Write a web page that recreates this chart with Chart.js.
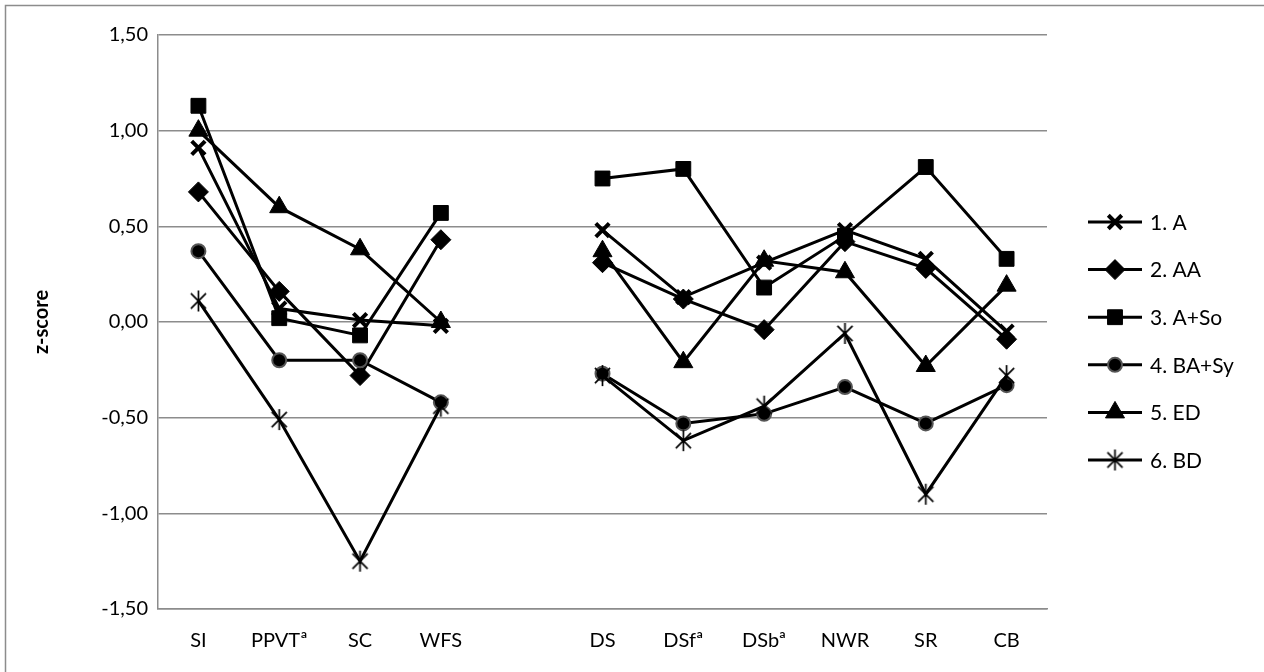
<!DOCTYPE html>
<html>
<head>
<meta charset="utf-8">
<script src="https://cdn.jsdelivr.net/npm/chart.js@4.4.1/dist/chart.umd.min.js"></script>
<style>
  html, body { margin: 0; padding: 0; background: #fff; }
  #wrap { width: 1264px; height: 672px; }
</style>
</head>
<body>
<div id="wrap"><canvas id="chart" width="1264" height="672"></canvas></div>
<script>
// Categories - the empty slot splits the two test groups
const categories = ['SI', 'PPVTª', 'SC', 'WFS', '', 'DS', 'DSfª', 'DSbª', 'NWR', 'SR', 'CB'];
const yTicks = [-1.5, -1, -0.5, 0, 0.5, 1, 1.5];

const seriesNames = ['1. A', '2. AA', '3. A+So', '4. BA+Sy', '5. ED', '6. BD'];
const seriesA    = [0.91, 0.07, 0.01, -0.02, null, 0.48, 0.13, 0.31, 0.48, 0.33, -0.05];
const seriesAA   = [0.68, 0.16, -0.28, 0.43, null, 0.31, 0.12, -0.04, 0.42, 0.28, -0.09];
const seriesASo  = [1.13, 0.02, -0.07, 0.57, null, 0.75, 0.80, 0.18, 0.45, 0.81, 0.33];
const seriesBASy = [0.37, -0.20, -0.20, -0.42, null, -0.27, -0.53, -0.48, -0.34, -0.53, -0.33];
const seriesED   = [1.00, 0.60, 0.38, 0.00, null, 0.37, -0.21, 0.32, 0.26, -0.23, 0.19];
const seriesBD   = [0.11, -0.51, -1.25, -0.44, null, -0.28, -0.62, -0.44, -0.06, -0.90, -0.28];

const FONT = 'Lato, "Open Sans", sans-serif';
const GRID = '#8c8c8c';

// Excel style star marker: an X with a vertical bar through it
function makeStar(size) {
  const c = document.createElement('canvas');
  c.width = size; c.height = size;
  const g = c.getContext('2d');
  const m = size / 2, r = size / 2 - 1;
  const d = r * 0.72;
  g.strokeStyle = '#000';
  g.lineWidth = 1.7;
  g.beginPath();
  g.moveTo(m, m - r); g.lineTo(m, m + r);
  g.moveTo(m - d, m - d); g.lineTo(m + d, m + d);
  g.moveTo(m + d, m - d); g.lineTo(m - d, m + d);
  g.stroke();
  return c;
}

function series(label, data, style, extra) {
  return Object.assign({
    label: label,
    data: data,
    borderColor: '#000',
    borderWidth: 3,
    tension: 0,
    spanGaps: false,
    pointStyle: style,
    pointBackgroundColor: '#000',
    pointBorderColor: '#000',
    pointBorderWidth: 1,
    pointRadius: 9,
    pointHoverRadius: 9
  }, extra || {});
}

const datasets = [
  series(seriesNames[0], seriesA, 'crossRot', { pointRadius: 9.5, pointBorderWidth: 4, order: 5 }),
  series(seriesNames[1], seriesAA, 'rectRot', { pointRadius: 10, order: 4 }),
  series(seriesNames[2], seriesASo, 'rect', { pointRadius: 10.5, order: 3 }),
  series(seriesNames[3], seriesBASy, 'circle', { pointRadius: 7, pointBorderColor: '#555', pointBorderWidth: 2, order: 2 }),
  series(seriesNames[4], seriesED, 'triangle', { pointRadius: 11, order: 1 }),
  series(seriesNames[5], seriesBD, makeStar(23), { order: 0 })
];

// Frame around the whole picture (top and left edges show)
const framePlugin = {
  id: 'frame',
  beforeDraw(chart) {
    const ctx = chart.ctx;
    ctx.save();
    ctx.fillStyle = '#fff';
    ctx.fillRect(0, 0, chart.width, chart.height);
    ctx.strokeStyle = GRID;
    ctx.lineWidth = 1.5;
    ctx.beginPath();
    ctx.moveTo(5.5, chart.height);
    ctx.lineTo(5.5, 5.5);
    ctx.lineTo(chart.width, 5.5);
    ctx.stroke();
    ctx.restore();
  }
};

// Legend on the right: line with the marker in the middle
const sideLegend = {
  id: 'sideLegend',
  afterDraw(chart) {
    const ctx = chart.ctx;
    const x1 = 1088, x2 = 1142, textX = 1150, y0 = 222, step = 47.6;
    chart.data.datasets.forEach((ds, i) => {
      const y = y0 + i * step;
      ctx.save();
      ctx.strokeStyle = '#000';
      ctx.lineWidth = 3;
      ctx.beginPath();
      ctx.moveTo(x1, y);
      ctx.lineTo(x2, y);
      ctx.stroke();
      ctx.fillStyle = ds.pointBackgroundColor;
      ctx.strokeStyle = ds.pointBorderColor;
      ctx.lineWidth = ds.pointBorderWidth;
      Chart.helpers.drawPoint(ctx, {
        pointStyle: ds.pointStyle,
        radius: ds.pointRadius,
        borderWidth: ds.pointBorderWidth,
        rotation: 0
      }, (x1 + x2) / 2, y);
      ctx.fillStyle = '#000';
      ctx.font = '21px ' + FONT;
      ctx.textBaseline = 'middle';
      ctx.textAlign = 'left';
      ctx.fillText(ds.label, textX, y + 1);
      ctx.restore();
    });
  }
};

new Chart(document.getElementById('chart'), {
  type: 'line',
  data: { labels: categories, datasets: datasets },
  plugins: [framePlugin, sideLegend],
  options: {
    responsive: false,
    animation: false,
    devicePixelRatio: 1,
    layout: { padding: { top: 35, left: 20, right: 217, bottom: 0 } },
    plugins: {
      legend: { display: false },
      tooltip: { enabled: false }
    },
    scales: {
      x: {
        offset: true,
        grid: { display: false, drawTicks: false },
        border: { display: true, color: GRID, width: 1.5 },
        ticks: {
          color: '#000',
          font: { family: FONT, size: 20 },
          padding: 20,
          autoSkip: false,
          maxRotation: 0
        },
        afterFit(scale) { scale.height = 63; }
      },
      y: {
        min: -1.5,
        max: 1.5,
        grid: { color: GRID, lineWidth: 1.5, drawTicks: false },
        border: { display: true, color: GRID, width: 1.5 },
        afterBuildTicks(scale) {
          scale.ticks = yTicks.map(v => ({ value: v }));
        },
        ticks: {
          color: '#000',
          font: { family: FONT, size: 20 },
          padding: 10,
          callback: v => v.toFixed(2).replace('.', ',')
        },
        title: {
          display: true,
          text: 'z-score',
          color: '#000',
          font: { family: FONT, size: 20, weight: 'bold' },
          padding: { top: 10, bottom: 0 }
        },
        afterFit(scale) { scale.width = 138; }
      }
    }
  }
});
</script>
</body>
</html>
